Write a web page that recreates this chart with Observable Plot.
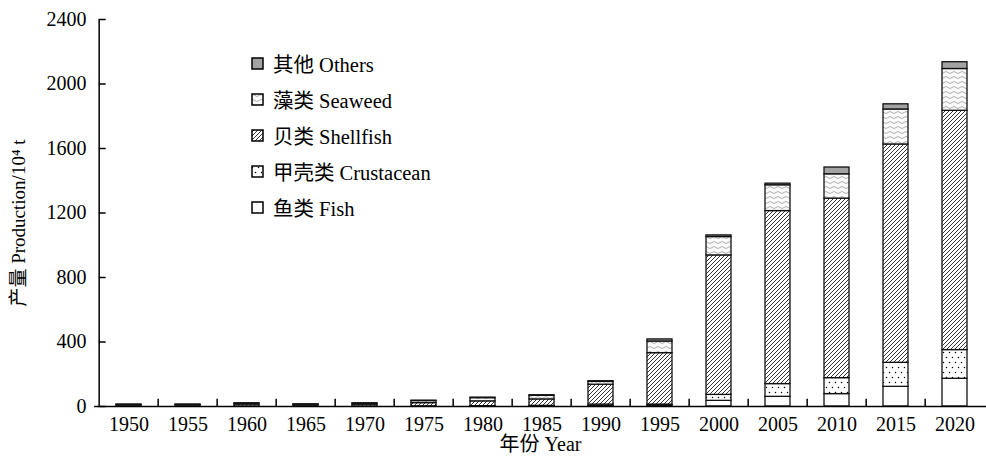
<!DOCTYPE html>
<html><head><meta charset="utf-8">
<script src="https://cdn.jsdelivr.net/npm/d3@7"></script>
<script src="https://cdn.jsdelivr.net/npm/@observablehq/plot@0.6"></script>
<style>
body{margin:0;background:#fff}
#wrap{position:relative;width:986px;height:457px;overflow:hidden}
#legend{position:absolute;left:251px;top:45px;font-family:"Liberation Serif","Noto Sans CJK SC",serif;font-size:20.5px;color:#000}
#legend .row{display:flex;align-items:center;height:36px}
#legend svg{margin-right:9px}
</style></head>
<body><div id="wrap"><div id="legend"></div></div>
<script>
const years = ["1950","1955","1960","1965","1970","1975","1980","1985","1990","1995","2000","2005","2010","2015","2020"];
const types = ["鱼类 Fish","甲壳类 Crustacean","贝类 Shellfish","藻类 Seaweed","其他 Others"];
const fish       = [0,0,0,0,0,0,1,1,2,4,35,60,77,122,172];
const crustacean = [0,0,0,0,0,1,1,3,10,8,37,79,99,149,178];
const shellfish  = [9,9,12,9,11,20,30,40,123,319,865,1073,1113,1354,1484];
const seaweed    = [1,1,6,3,7,13,20,22,18,72,114,160,151,217,259];
const others     = [2,2,2,1,2,2,3,4,4,13,10,10,42,32,42];
const yTicks = [0,400,800,1200,1600,2000,2400];
const fills = ["#ffffff","url(#pCrust)","url(#pShell)","url(#pSea)","#a3a3a3"];

const series = [fish, crustacean, shellfish, seaweed, others];
const rows = [];
types.forEach((t, i) => years.forEach((y, j) => rows.push({year: y, type: t, value: series[i][j]})));

const font = `"Liberation Serif","Noto Sans CJK SC",serif`;
const x0 = 94, x1 = 989, pIn = 0.58, pOut = 0.29;
const step = (x1 - x0) / 15;
const bw = step * (1 - pIn);
const bandStart = x0 + pOut * step;

const chart = Plot.plot({
  width: 986, height: 457,
  marginLeft: 94, marginRight: 0, marginTop: 19, marginBottom: 51,
  style: {fontFamily: font, fontSize: "20px", color: "#000", background: "#fff", overflow: "visible"},
  x: {type: "band", domain: years, range: [x0, x1], paddingInner: pIn, paddingOuter: pOut, label: null},
  y: {domain: [0, 2400], label: null},
  color: {type: "ordinal", domain: types, range: fills},
  marks: [
    Plot.barY(rows, {x: "year", y: "value", fill: "type", stroke: "#111", strokeWidth: 1.3, order: types}),
    Plot.axisY(yTicks, {tickSize: 0, tickPadding: 8, fontSize: 20, label: null, tickFormat: d => String(d)}),
    Plot.tickY(yTicks, {y: d => d, x: () => years[0], dx: x0 - bandStart, insetRight: bw - 7, stroke: "#000", strokeWidth: 1.5}),
    Plot.axisX(years, {tickSize: 0, tickPadding: 10, fontSize: 20, label: null}),
    Plot.ruleX(years.slice(1), {x: d => d, dx: -step / 2, y1: 0, y2: 45, stroke: "#000", strokeWidth: 1.5}),
    Plot.ruleY([0], {stroke: "#000", strokeWidth: 1.5}),
    Plot.ruleX([years[0]], {dx: -step / 2, stroke: "#000", strokeWidth: 1.5, y1: 0, y2: 2400}),
    Plot.text(["年份 Year"], {frameAnchor: "bottom", dy: 44, fontSize: 20, fill: "#000", text: d => d}),
    Plot.text(["产量 Production/10⁴ t"], {frameAnchor: "left", textAnchor: "middle", dx: -76, dy: 10, rotate: -90, fontSize: 19, fill: "#000", text: d => d})
  ]
});

const svg = d3.select(chart);
const defs = svg.insert("defs", ":first-child");
const pc = defs.append("pattern").attr("id", "pCrust").attr("patternUnits", "userSpaceOnUse").attr("width", 6).attr("height", 10);
pc.append("rect").attr("width", 6).attr("height", 10).attr("fill", "#fff");
pc.append("circle").attr("cx", 1.5).attr("cy", 2.5).attr("r", 0.75).attr("fill", "#000");
pc.append("circle").attr("cx", 4.5).attr("cy", 7.5).attr("r", 0.75).attr("fill", "#000");
const ps = defs.append("pattern").attr("id", "pShell").attr("patternUnits", "userSpaceOnUse").attr("width", 4).attr("height", 4);
ps.append("rect").attr("width", 4).attr("height", 4).attr("fill", "#fff");
ps.append("path").attr("d", "M-1,1 L1,-1 M0,4 L4,0 M3,5 L5,3").attr("stroke", "#222").attr("stroke-width", 0.9);
const pw = defs.append("pattern").attr("id", "pSea").attr("patternUnits", "userSpaceOnUse").attr("width", 8).attr("height", 5);
pw.append("rect").attr("width", 8).attr("height", 5).attr("fill", "#fafafa");
pw.append("path").attr("d", "M0,2.5 Q2,0.5 4,2.5 T8,2.5").attr("fill", "none").attr("stroke", "#9a9a9a").attr("stroke-width", 0.8);

document.getElementById("wrap").prepend(chart);

const legend = d3.select("#legend");
types.slice().reverse().forEach(t => {
  const r = legend.append("div").attr("class", "row");
  const s = r.append("svg").attr("width", 13).attr("height", 13);
  s.append("rect").attr("x", 1).attr("y", 1).attr("width", 11).attr("height", 11)
    .attr("fill", fills[types.indexOf(t)]).attr("stroke", "#000").attr("stroke-width", 1.5);
  r.append("span").text(t);
});
</script>
</body></html>
